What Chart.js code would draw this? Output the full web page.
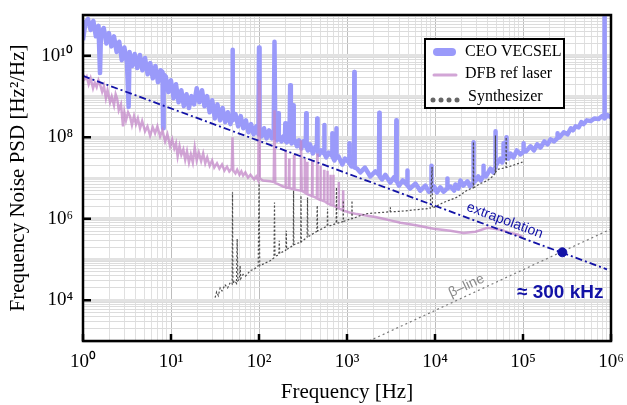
<!DOCTYPE html>
<html>
<head>
<meta charset="utf-8">
<script src="https://cdn.jsdelivr.net/npm/chart.js@4.4.0/dist/chart.umd.min.js"></script>
<style>
    body { margin: 0; background: #fff; }
</style>
</head>
<body>
<canvas id="psd-chart" width="627" height="405"></canvas>
<script>
// axes
const xDecades = [1, 10, 100, 1e3, 1e4, 1e5, 1e6];
const xTickLabels = ['10⁰', '10¹', '10²', '10³', '10⁴', '10⁵', '10⁶'];
const yDecades = [1e3, 1e4, 1e5, 1e6, 1e7, 1e8, 1e9, 1e10, 1e11];
const yLabelValues = [1e4, 1e6, 1e8, 1e10];
const yTickLabels = ['10⁴', '10⁶', '10⁸', '10¹⁰'];
const minorSteps = [1, 2, 3, 4, 5, 6, 7, 8, 9];

// CEO VECSEL  (Hz, Hz^2/Hz)
const vecselFreq = [
    1, 1.07, 1.14, 1.22, 1.31, 1.40, 1.50, 1.56, 1.60, 1.72,
    1.84, 1.97, 2.10, 2.25, 2.41, 2.58, 2.76, 2.95, 3.16, 3.30,
    3.38, 3.62, 3.87, 4.14, 4.43, 4.74, 5.07, 5.43, 5.81, 6.21,
    6.65, 7.11, 7.61, 8.0, 8.13, 8.25, 8.72, 9.33, 9.98, 10.7,
    11.4, 12.2, 13.1, 14.0, 15.0, 16.0, 17.1, 18.3, 19.6, 21.0,
    22.5, 24.0, 25.7, 27.5, 29.4, 31.5, 33.7, 36.1, 38.6, 41.3,
    44.2, 47.3, 49.5, 50, 50.5, 54.1, 57.9, 62.0, 66.3, 70.9,
    75.9, 81.2, 86.9, 93.0, 98.5, 100, 101.5, 107, 114, 122,
    130, 140, 147, 150, 153, 160, 162, 165, 168, 180,
    190, 197, 199, 202, 207, 215, 222, 226, 230, 235,
    242, 245, 248, 255, 270, 285, 302, 320, 340, 344,
    348, 360, 380, 410, 440, 455, 459, 463, 480, 510,
    548, 552, 556, 580, 620, 676, 680, 684, 720, 750,
    756, 762, 800, 885, 950, 1055, 1063, 1071, 1120, 1200,
    1211, 1222, 1300, 1416, 1600, 1841, 2100, 2310, 2330, 2350,
    2500, 2727, 3100, 3400, 3600, 3637, 3670, 3900, 4300, 4820,
    4853, 4880, 5200, 5984, 6800, 7780, 8500, 9050, 9100, 9150,
    9800, 10500, 11500, 12500, 13700, 13800, 13900, 15000, 16500, 17060,
    18500, 19450, 21000, 23370, 25000, 27200, 27350, 27500, 29000, 31000,
    33000, 35400, 35560, 35700, 38000, 42700, 46000, 48400, 48650, 48900,
    51000, 55450, 58000, 59700, 59970, 60300, 62000, 64600, 64860, 65100,
    68000, 72000, 77950, 85000, 93700, 101000, 101400, 101800, 108000, 121700,
    133000, 145000, 158200, 175000, 190000, 205600, 225000, 246000, 246800, 247600,
    260000, 290000, 320700, 350000, 370000, 395400, 430000, 460000, 487600, 530000,
    586100, 650000, 722200, 790000, 844000, 845600, 847000, 914600, 1000000
];
const vecselPsd = [
    2.4e10, 6.8e10, 8.0e10, 4.3e10, 7.2e10, 3.0e10, 5.4e10, 3.75e9, 3.6e10, 4.8e10,
    2.0e10, 3.6e10, 1.7e10, 3.0e10, 1.24e10, 2.2e10, 7.8e9, 1.6e10, 6.6e9, 5.5e8,
    1.24e10, 5.6e9, 1.1e10, 5.0e9, 1.04e10, 4.4e9, 8.8e9, 3.5e9, 6.6e9, 2.8e9,
    5.6e9, 2.25e9, 4.4e9, 4.0e9, 1.66e8, 3.5e9, 3.1e9, 1.28e9, 2.5e9, 9.1e8,
    2.0e9, 7.2e8, 1.43e9, 5.8e8, 1.14e9, 5.2e8, 1.02e9, 6.4e8, 1.6e9, 7.2e8,
    1.43e9, 5.8e8, 1.02e9, 4.1e8, 8.1e8, 2.9e8, 6.4e8, 2.6e8, 5.2e8, 2.35e8,
    4.1e8, 2.1e8, 3.3e8, 1.4e10, 2.6e8, 3.7e8, 1.85e8, 3.3e8, 1.66e8, 2.6e8,
    1.32e8, 2.1e8, 1.18e8, 1.85e8, 1.18e8, 1.6e10, 1.66e8, 1.05e8, 1.66e8, 9.4e7,
    1.48e8, 9.4e7, 1.18e8, 2.2e10, 1.05e8, 8.4e7, 1.1e8, 3.9e8, 1.15e8, 7.9e7,
    1.05e8, 9.0e7, 2.2e8, 8.0e7, 7.5e7, 1.0e8, 9.0e7, 1.9e9, 8.0e7, 7.1e7,
    7.5e7, 6.1e8, 8.0e7, 8.4e7, 6.0e7, 8.4e7, 5.3e7, 7.9e7, 6.0e7, 3.9e8,
    5.5e7, 4.75e7, 6.7e7, 4.0e7, 6.0e7, 5.0e7, 2.9e8, 4.8e7, 3.7e7, 4.75e7,
    4.0e7, 2.0e8, 4.0e7, 3.2e7, 4.2e7, 3.5e7, 1.25e8, 3.4e7, 2.7e7, 3.3e7,
    1.66e8, 3.2e7, 3.4e7, 2.15e7, 3.0e7, 2.4e7, 7.1e7, 2.3e7, 1.92e7, 2.0e7,
    4.0e9, 1.8e7, 1.71e7, 1.37e7, 1.8e7, 1.09e7, 1.45e7, 1.2e7, 4.0e8, 1.1e7,
    9.2e6, 1.2e7, 7.7e6, 1.03e7, 8.5e6, 2.6e8, 8.3e6, 6.5e6, 8.7e6, 6.8e6,
    1.53e7, 6.6e6, 5.5e6, 7.3e6, 4.9e6, 6.5e6, 4.6e6, 4.8e6, 2.0e7, 5.0e6,
    6.2e6, 4.4e6, 5.9e6, 4.6e6, 5.5e6, 9.7e6, 5.6e6, 6.2e6, 4.9e6, 6.9e6,
    5.5e6, 8.7e6, 6.5e6, 8.3e6, 6.2e6, 7.5e6, 7.5e7, 7.8e6, 8.7e6, 1.09e7,
    8.7e6, 1.1e7, 2.0e7, 1.2e7, 1.09e7, 1.7e7, 1.37e7, 1.8e7, 1.4e8, 2.0e7,
    2.3e7, 3.0e7, 2.4e7, 2.8e7, 7.1e7, 3.0e7, 3.7e7, 3.3e7, 1.0e8, 3.4e7,
    3.0e7, 4.0e7, 3.2e7, 4.75e7, 3.8e7, 4.4e7, 7.1e7, 4.6e7, 4.5e7, 6.0e7,
    4.75e7, 6.7e7, 5.6e7, 7.9e7, 6.7e7, 8.9e7, 7.9e7, 9.5e7, 1.25e8, 1.0e8,
    1.0e8, 1.32e8, 1.18e8, 1.66e8, 1.48e8, 1.85e8, 1.75e8, 2.35e8, 2.1e8, 2.6e8,
    2.5e8, 2.9e8, 2.8e8, 3.3e8, 2.9e8, 2e11, 2.9e8, 3.5e8, 3.1e8
];

// DFB reference laser
const dfbFreq = [
    1, 1.05, 1.1, 1.16, 1.22, 1.3, 1.36, 1.43, 1.5, 1.56,
    1.65, 1.73, 1.82, 1.9, 2.03, 2.12, 2.25, 2.35, 2.45, 2.55,
    2.7, 2.85, 2.95, 3.08, 3.25, 3.42, 3.6, 3.8, 4.0, 4.2,
    4.45, 4.7, 5.07, 5.4, 5.79, 6.2, 6.59, 7.0, 7.52, 8.0,
    8.57, 9.1, 9.77, 10.3, 10.9, 11.4, 11.9, 12.5, 13.1, 13.8,
    14.5, 15.2, 16.0, 16.8, 17.7, 18.6, 19.6, 20.7, 22.0, 23.2,
    24.5, 25.8, 27.5, 29.3, 31.0, 33.3, 35.5, 38, 40.5, 43.3,
    46, 49, 50, 51, 54, 56.5, 60, 63, 66, 70,
    75, 80, 88, 93, 98, 100, 102, 111, 134, 147,
    150, 153, 165, 188, 198, 200, 202, 218, 220, 222,
    247, 250, 253, 294, 300, 306, 327, 330, 333, 350,
    352, 355, 400, 403, 406, 455, 459, 463, 497, 500,
    503, 547, 550, 553, 597, 600, 603, 647, 650, 653,
    698, 700, 702, 800, 805, 810, 900, 903, 906, 1090,
    1300, 1702, 2100, 2588, 3200, 4040, 5000, 6300, 9590, 14970,
    21050, 28800, 39500, 55450, 72100, 86600, 98700
];
const dfbPsd = [
    3.5e9, 2.7e9, 3.1e9, 2.0e9, 2.8e9, 1.6e9, 2.2e9, 1.7e9, 2.5e9, 2.0e9,
    1.3e9, 1.8e9, 9.1e8, 1.43e9, 7.2e8, 1.0e9, 6.1e8, 1.14e9, 8.6e8, 4.6e8,
    6.4e8, 1.85e8, 4.1e8, 2.6e8, 4.1e8, 3.3e8, 2.0e8, 3.3e8, 2.1e8, 2.9e8,
    1.66e8, 2.5e8, 1.4e8, 1.85e8, 1.1e8, 1.75e8, 1.25e8, 1.85e8, 1.05e8, 1.48e8,
    7.9e7, 1.18e8, 6.0e7, 8.9e7, 5.3e7, 7.1e7, 3.4e7, 6.0e7, 3.7e7, 5.0e7,
    2.8e7, 4.5e7, 2.4e7, 3.8e7, 2.4e7, 5.6e7, 2.7e7, 4.2e7, 2.6e7, 4.0e7,
    2.3e7, 3.2e7, 2.0e7, 2.7e7, 1.8e7, 2.3e7, 1.7e7, 2.15e7, 1.53e7, 1.9e7,
    1.45e7, 1.7e7, 1.0e8, 1.53e7, 1.3e7, 1.6e7, 1.2e7, 1.45e7, 1.15e7, 1.37e7,
    1.03e7, 1.2e7, 9.2e6, 1.09e7, 8.7e6, 2.5e9, 9.7e6, 8.7e6, 8.3e6, 8.0e6,
    4.6e8, 7.6e6, 7.1e6, 6.2e6, 6.0e6, 4.8e7, 5.9e6, 5.7e6, 3.0e7, 5.6e6,
    5.3e6, 3.7e7, 5.2e6, 4.9e6, 8.4e7, 4.8e6, 4.5e6, 3.0e7, 4.4e6, 4.1e6,
    2.5e7, 4.0e6, 3.6e6, 2.6e7, 3.6e6, 3.2e6, 4.0e7, 3.1e6, 2.9e6, 2.0e7,
    2.9e6, 2.7e6, 1.6e7, 2.7e6, 2.4e6, 1.5e7, 2.4e6, 2.2e6, 1.2e7, 2.2e6,
    2.1e6, 1.2e7, 2.1e6, 1.8e6, 8.0e6, 1.8e6, 1.6e6, 5.0e6, 1.6e6, 1.41e6,
    1.3e6, 1.19e6, 1.1e6, 1.0e6, 9.0e5, 8.0e5, 7.4e5, 6.8e5, 5.7e5, 5.1e5,
    4.5e5, 4.8e5, 6.0e5, 5.4e5, 4.5e5, 4.1e5, 3.6e5
];

// synthesizer
const synthFreq = [
    31.7, 33, 34.5, 36.2, 38, 41.2, 44, 47, 49.5, 50,
    50.5, 53, 55.5, 56.5, 57.5, 60, 61, 62, 66, 70,
    79.4, 88, 98, 100, 102, 115, 134, 148, 150, 152,
    168, 170, 172, 202, 204, 206, 226, 245, 247, 249,
    270, 298, 300, 302, 352, 356, 360, 455, 459, 463,
    596, 601, 606, 646, 753, 759, 765, 839, 903, 908,
    913, 1091, 1135, 1140, 1145, 1416, 1702, 2588, 3090, 3110,
    3130, 4040, 6300, 8800, 9270, 9350, 12470, 17990, 23370, 27200,
    27350, 27500, 32830, 39500, 45000, 48400, 48650, 48900, 51300, 64000,
    64400, 64800, 66700, 82200, 98700
];
const synthPsd = [
    1.16e4, 1.6e4, 1.3e4, 2.0e4, 1.7e4, 2.4e4, 2.0e4, 2.7e4, 2.5e4, 4.5e6,
    2.6e4, 3.0e4, 2.6e4, 3.2e5, 3.0e4, 3.3e4, 7.0e4, 3.4e4, 4.3e4, 3.9e4,
    5.3e4, 5.8e4, 7.0e4, 7.3e6, 7.0e4, 8.0e4, 9.3e4, 1.1e5, 2.5e6, 1.2e5,
    1.3e5, 2.9e5, 1.4e5, 1.7e5, 5.1e5, 1.75e5, 2.0e5, 2.2e5, 4.9e6, 2.3e5,
    2.5e5, 2.6e5, 3.7e6, 2.7e5, 3.5e5, 3.3e6, 3.6e5, 4.9e5, 2.1e6, 5.0e5,
    6.6e5, 1.77e6, 6.7e5, 6.8e5, 7.6e5, 5.9e6, 7.7e5, 8.2e5, 8.5e5, 2.8e6,
    8.6e5, 9.9e5, 1.0e6, 2.8e6, 1.0e6, 1.19e6, 1.34e6, 1.44e6, 1.48e6, 1.9e6,
    1.48e6, 1.52e6, 1.68e6, 1.8e6, 1.85e7, 1.82e6, 2.5e6, 3.4e6, 5.1e6, 5.7e6,
    7.6e7, 5.8e6, 7.3e6, 8.7e6, 1.09e7, 1.3e7, 1.1e8, 1.4e7, 1.62e7, 1.8e7,
    1.0e8, 1.82e7, 1.85e7, 2.15e7, 2.45e7
];

// guide lines and the crossing point
const extrapFreq = [1, 9e5];
const extrapPsd = [3.2e9, 5.75e4];
const betaFreq = [1780, 1e6];
const betaPsd = [1e3, 5.6e5];
const crossFreq = [2.8e5];
const crossPsd = [1.5e5];

const navy = '#1212a6';
const serif = "'Liberation Serif', 'Times New Roman', serif";
const sans = "'Liberation Sans', Arial, sans-serif";

function pts(xs, ys) {
    return xs.map((f, i) => ({ x: f, y: ys[i] }));
}

function logTicks(decades) {
    const ticks = [];
    decades.forEach((d, i) => {
        if (i === decades.length - 1) {
            ticks.push({ value: d, major: true });
            return;
        }
        minorSteps.forEach(s => ticks.push({ value: d * s, major: s === 1 }));
    });
    return ticks;
}

// frame, inward ticks, legend and the labels on the plot
const decorations = {
    id: 'decorations',
    afterDatasetsDraw(chart) {
        const { ctx, scales: { x, y } } = chart;
        ctx.save();

        let ang = Math.atan2(
            y.getPixelForValue(extrapPsd[1]) - y.getPixelForValue(extrapPsd[0]),
            x.getPixelForValue(extrapFreq[1]) - x.getPixelForValue(extrapFreq[0]));
        ctx.save();
        ctx.translate(x.getPixelForValue(6.2e4), y.getPixelForValue(9e5));
        ctx.rotate(ang);
        ctx.font = '14px ' + sans;
        ctx.fillStyle = navy;
        ctx.textAlign = 'center';
        ctx.textBaseline = 'middle';
        ctx.fillText('extrapolation', 0, 0);
        ctx.restore();

        ang = Math.atan2(
            y.getPixelForValue(betaPsd[1]) - y.getPixelForValue(betaPsd[0]),
            x.getPixelForValue(betaFreq[1]) - x.getPixelForValue(betaFreq[0]));
        ctx.save();
        ctx.translate(x.getPixelForValue(2.28e4), y.getPixelForValue(2.25e4));
        ctx.rotate(ang);
        ctx.font = '14px ' + sans;
        ctx.fillStyle = '#8a8a8a';
        ctx.textAlign = 'center';
        ctx.textBaseline = 'middle';
        ctx.fillText('β–line', 0, 0);
        ctx.restore();

        ctx.font = 'bold 19px ' + sans;
        ctx.fillStyle = navy;
        ctx.textAlign = 'right';
        ctx.textBaseline = 'middle';
        ctx.fillText('≈ 300 kHz', x.getPixelForValue(8.2e5), y.getPixelForValue(1.5e4));
        ctx.restore();
    },
    afterDraw(chart) {
        const { ctx, chartArea: a, scales: { x, y } } = chart;
        ctx.save();
        ctx.strokeStyle = '#000';
        ctx.lineWidth = 2.5;
        ctx.strokeRect(a.left, a.top, a.right - a.left, a.bottom - a.top);

        ctx.beginPath();
        xDecades.forEach(v => {
            const px = x.getPixelForValue(v);
            ctx.moveTo(px, a.bottom);
            ctx.lineTo(px, a.bottom - 7);
        });
        yLabelValues.forEach(v => {
            const py = y.getPixelForValue(v);
            ctx.moveTo(a.left, py);
            ctx.lineTo(a.left + 8, py);
        });
        ctx.stroke();

        // legend
        const lx = 425, ly = 39, lw = 139, lh = 69;
        ctx.fillStyle = '#fff';
        ctx.fillRect(lx, ly, lw, lh);
        ctx.lineWidth = 2;
        ctx.strokeRect(lx, ly, lw, lh);

        ctx.lineCap = 'round';
        ctx.strokeStyle = '#9a9afa';
        ctx.lineWidth = 8;
        ctx.beginPath();
        ctx.moveTo(437, 52);
        ctx.lineTo(452, 52);
        ctx.stroke();

        ctx.strokeStyle = '#d2a5d6';
        ctx.lineWidth = 3;
        ctx.beginPath();
        ctx.moveTo(434, 75);
        ctx.lineTo(456, 75);
        ctx.stroke();

        ctx.fillStyle = '#666';
        [433, 441, 449, 457].forEach(cx => {
            ctx.beginPath();
            ctx.arc(cx, 100, 2.5, 0, Math.PI * 2);
            ctx.fill();
        });

        ctx.fillStyle = '#000';
        ctx.font = '16px ' + serif;
        ctx.textAlign = 'left';
        ctx.textBaseline = 'middle';
        ctx.fillText('CEO VECSEL', 465, 52);
        ctx.fillText('DFB ref laser', 465, 74);
        ctx.fillText('Synthesizer', 468, 97);
        ctx.restore();
    }
};

const ctx = document.getElementById('psd-chart');

const data = {
    datasets: [
        {
            label: 'CEO VECSEL',
            data: pts(vecselFreq, vecselPsd),
            borderColor: '#9a9afa',
            borderWidth: 4.5,
            borderJoinStyle: 'round',
            pointRadius: 0,
            order: 6
        },
        {
            label: 'DFB ref laser',
            data: pts(dfbFreq, dfbPsd),
            borderColor: 'rgba(195, 135, 200, 0.75)',
            borderWidth: 2.5,
            pointRadius: 0,
            order: 5
        },
        {
            label: 'Synthesizer',
            data: pts(synthFreq, synthPsd),
            borderColor: '#4d4d4d',
            borderWidth: 1.2,
            borderDash: [2, 2],
            pointRadius: 0,
            order: 4
        },
        {
            label: 'beta line',
            data: pts(betaFreq, betaPsd),
            borderColor: '#7a7a7a',
            borderWidth: 1.2,
            borderDash: [2, 3],
            pointRadius: 0,
            order: 3
        },
        {
            label: 'extrapolation',
            data: pts(extrapFreq, extrapPsd),
            borderColor: navy,
            borderWidth: 1.8,
            borderDash: [7, 3, 2, 3],
            pointRadius: 0,
            order: 2
        },
        {
            label: 'crossing',
            data: pts(crossFreq, crossPsd),
            showLine: false,
            pointRadius: 4.5,
            pointBackgroundColor: navy,
            pointBorderColor: navy,
            order: 1
        }
    ]
};

const config = {
    type: 'line',
    data: data,
    options: {
        responsive: false,
        animation: false,
        events: [],
        layout: {
            padding: { left: 0, right: 16, top: 15, bottom: 0 }
        },
        plugins: {
            legend: { display: false },
            tooltip: { enabled: false }
        },
        scales: {
            x: {
                type: 'logarithmic',
                min: 1,
                max: 1e6,
                afterBuildTicks: (scale) => { scale.ticks = logTicks(xDecades); },
                afterFit: (scale) => {
                    scale.height = 64;
                    scale.paddingLeft = 0;
                    scale.paddingRight = 0;
                },
                ticks: {
                    autoSkip: false,
                    maxRotation: 0,
                    padding: 10,
                    color: '#000',
                    font: { family: serif, size: 19 },
                    callback: (v) => {
                        const k = xDecades.indexOf(v);
                        return k >= 0 ? xTickLabels[k] : '';
                    }
                },
                grid: {
                    drawTicks: false,
                    color: (c) => (c.tick && c.tick.major) ? '#bdbdbd' : '#e0e0e0',
                    lineWidth: 1
                },
                border: { display: false },
                title: {
                    display: true,
                    text: 'Frequency [Hz]',
                    color: '#000',
                    font: { family: serif, size: 21 },
                    padding: { top: 0, bottom: 0 }
                }
            },
            y: {
                type: 'logarithmic',
                min: 1e3,
                max: 1e11,
                afterBuildTicks: (scale) => { scale.ticks = logTicks(yDecades); },
                afterFit: (scale) => {
                    scale.width = 83;
                    scale.paddingTop = 0;
                    scale.paddingBottom = 0;
                },
                ticks: {
                    autoSkip: false,
                    padding: 10,
                    color: '#000',
                    font: { family: serif, size: 19 },
                    callback: (v) => {
                        const k = yLabelValues.indexOf(v);
                        return k >= 0 ? yTickLabels[k] : '';
                    }
                },
                grid: {
                    drawTicks: false,
                    color: (c) => (c.tick && c.tick.major) ? '#e2e2e2' : '#dcdcdc',
                    lineWidth: (c) => (c.tick && c.tick.major) ? 3 : 1
                },
                border: { display: false },
                title: {
                    display: true,
                    text: 'Frequency Noise PSD [Hz²/Hz]',
                    color: '#000',
                    font: { family: serif, size: 21 },
                    padding: { top: 6, bottom: 0 }
                }
            }
        }
    },
    plugins: [decorations]
};

new Chart(ctx, config);
</script>
</body>
</html>
